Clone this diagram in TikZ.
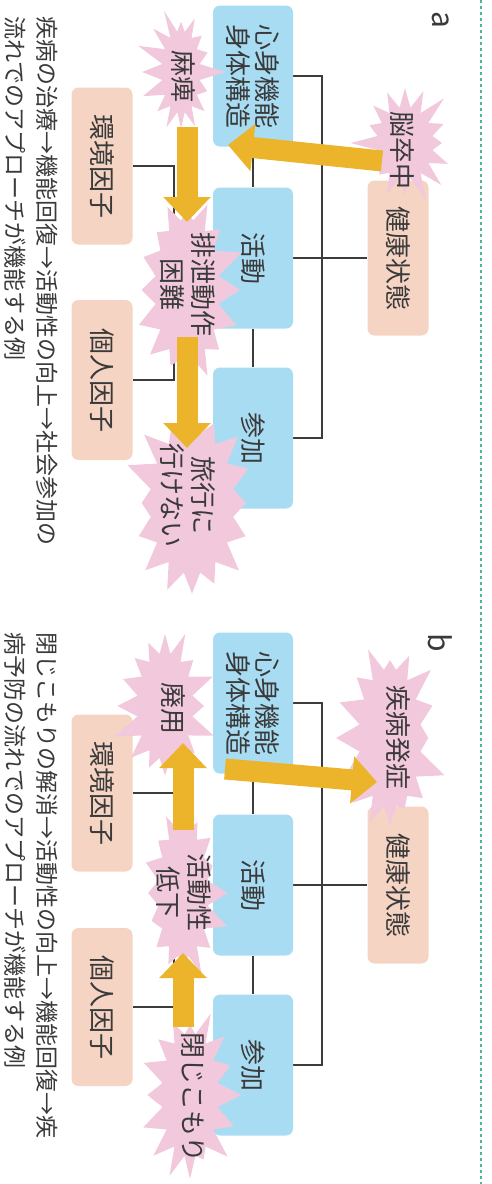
\documentclass[tikz,border=0pt]{standalone}
\usepackage{fontspec}
\setmainfont{Noto Sans CJK JP}
\usetikzlibrary{shapes.symbols,arrows.meta,backgrounds}
\definecolor{bluebx}{HTML}{A8DCF2}
\definecolor{peachbx}{HTML}{F5D4C4}
\definecolor{burst}{HTML}{F2C9DC}
\definecolor{gold}{HTML}{EBB42B}
\definecolor{lineg}{HTML}{3C3C3C}
\definecolor{txt}{HTML}{3A3A3A}
\definecolor{dashg}{HTML}{4DB594}
\begin{document}
\begin{tikzpicture}[x=1pt,y=-1pt,
 every node/.style={text=txt},
 box/.style={rounded corners=7pt, rotate=-90, inner sep=0pt, align=center, font=\fontsize{26}{29}\selectfont},
 bluebox/.style={box, fill=bluebx, minimum width=141pt, minimum height=80pt},
 peachbox/.style={box, fill=peachbx, minimum height=61pt},
 burstshape/.style={starburst, starburst points=16, starburst point height=28pt, fill=burst, draw=none, rotate=-90, inner sep=0pt},
 bursttext/.style={rotate=-90, inner sep=0pt, align=center, font=\fontsize{26}{31}\selectfont},
 conn/.style={draw=lineg, line width=2.4pt},
 bigarrow/.style={draw=gold, line width=21pt, -{Triangle[length=25pt, width=46pt]}},
 caption/.style={rotate=-90, anchor=west, inner sep=0pt, font=\fontsize{23}{23}\selectfont},
 panellabel/.style={rotate=-90, inner sep=0pt, font=\fontsize{30}{30}\selectfont},
]
\useasboundingbox (0,0) rectangle (492,1184);
\draw[dashg, line width=1.3pt, dash pattern=on 3pt off 3pt] (481,0) -- (481,1184);

% ---------------- panel a ----------------
\node[panellabel] (labA) at (441,20) {a};
\node[bluebox] (bodyA) at (253,76) {心身機能\\身体構造};
\node[bluebox] (actA) at (253,258) {活動};
\node[bluebox] (partA) at (253,438) {参加};
\node[peachbox, minimum width=155pt] (healthA) at (398,258) {健康状態};
\node[peachbox, minimum width=157pt] (envA) at (102,166) {環境因子};
\node[peachbox, minimum width=160pt] (persA) at (102,380) {個人因子};
\begin{scope}[on background layer]
\draw[conn] (bodyA.north) -- ++(29,0) |- (partA.north);
\draw[conn] (actA.north) -- (healthA.south);
\draw[conn] (bodyA.east) -- (actA.west);
\draw[conn] (actA.east) -- (partA.west);
\draw[conn] (envA.north) -- ++(41,0) |- (persA.north);
\draw[conn] (actA.south) -- ++(-40,0);
\end{scope}
\node[burstshape, minimum width=128pt, minimum height=112pt, random starburst=3] (sbA1) at (405,143) {};
\node[burstshape, minimum width=138pt, minimum height=94pt, random starburst=7] (sbA2) at (181,72) {};
\node[burstshape, minimum width=198pt, minimum height=120pt, random starburst=11] (sbA3) at (187,290) {};
\node[burstshape, minimum width=198pt, minimum height=140pt, random starburst=19] (sbA4) at (192,503) {};
\coordinate (a1s) at (382,161); \coordinate (a1e) at (228,145);
\coordinate (a2s) at (187,127); \coordinate (a2e) at (187,222);
\coordinate (a3s) at (187,337); \coordinate (a3e) at (187,448);
\draw[bigarrow] (a1s) -- (a1e);
\draw[bigarrow] (a2s) -- (a2e);
\draw[bigarrow] (a3s) -- (a3e);
\node[bursttext] (tA1) at (402,150) {脳卒中};
\node[bursttext] (tA2) at (183,76) {麻痺};
\node[bursttext] (tA3) at (188,284) {排泄動作\\困難};
\node[bursttext] (tA4) at (188,495) {旅行に\\行けない};
\node[caption] (capA1) at (47,16) {疾病の治療→機能回復→活動性の向上→社会参加の};
\node[caption] (capA2) at (15,16) {流れでのアプローチが機能する例};

% ---------------- panel b ----------------
\node[panellabel] (labB) at (440,643) {b};
\node[bluebox] (bodyB) at (253,703) {心身機能\\身体構造};
\node[bluebox] (actB) at (253,885) {活動};
\node[bluebox] (partB) at (253,1065) {参加};
\node[peachbox, minimum width=157pt] (healthB) at (398,885) {健康状態};
\node[peachbox, minimum width=157pt] (envB) at (102,793) {環境因子};
\node[peachbox, minimum width=158pt] (persB) at (102,1007) {個人因子};
\begin{scope}[on background layer]
\draw[conn] (bodyB.north) -- ++(29,0) |- (partB.north);
\draw[conn] (actB.north) -- (healthB.south);
\draw[conn] (bodyB.east) -- (actB.west);
\draw[conn] (actB.east) -- (partB.west);
\draw[conn] (envB.north) -- ++(41,0) |- (persB.north);
\draw[conn] (actB.south) -- ++(-40,0);
\end{scope}
\node[burstshape, minimum width=195pt, minimum height=118pt, random starburst=23] (sbB1) at (390,738) {};
\node[burstshape, minimum width=162pt, minimum height=112pt, random starburst=29] (sbB2) at (165,706) {};
\node[burstshape, minimum width=184pt, minimum height=106pt, random starburst=31] (sbB3) at (183,893) {};
\node[burstshape, minimum width=180pt, minimum height=112pt, random starburst=37] (sbB4) at (190,1095) {};
\coordinate (b1s) at (225,769); \coordinate (b1e) at (377,782);
\coordinate (b2s) at (183,830); \coordinate (b2e) at (183,743);
\coordinate (b3s) at (183,1027); \coordinate (b3e) at (183,953);
\draw[bigarrow] (b1s) -- (b1e);
\draw[bigarrow] (b2s) -- (b2e);
\draw[bigarrow] (b3s) -- (b3e);
\node[bursttext] (tB1) at (398,737) {疾病発症};
\node[bursttext] (tB2) at (173,708) {廃用};
\node[bursttext] (tB3) at (184,892) {活動性\\低下};
\node[bursttext] (tB4) at (193,1097) {閉じこもり};
\node[caption] (capB1) at (47,632) {閉じこもりの解消→活動性の向上→機能回復→疾};
\node[caption] (capB2) at (15,632) {病予防の流れでのアプローチが機能する例};
\end{tikzpicture}
\end{document}
